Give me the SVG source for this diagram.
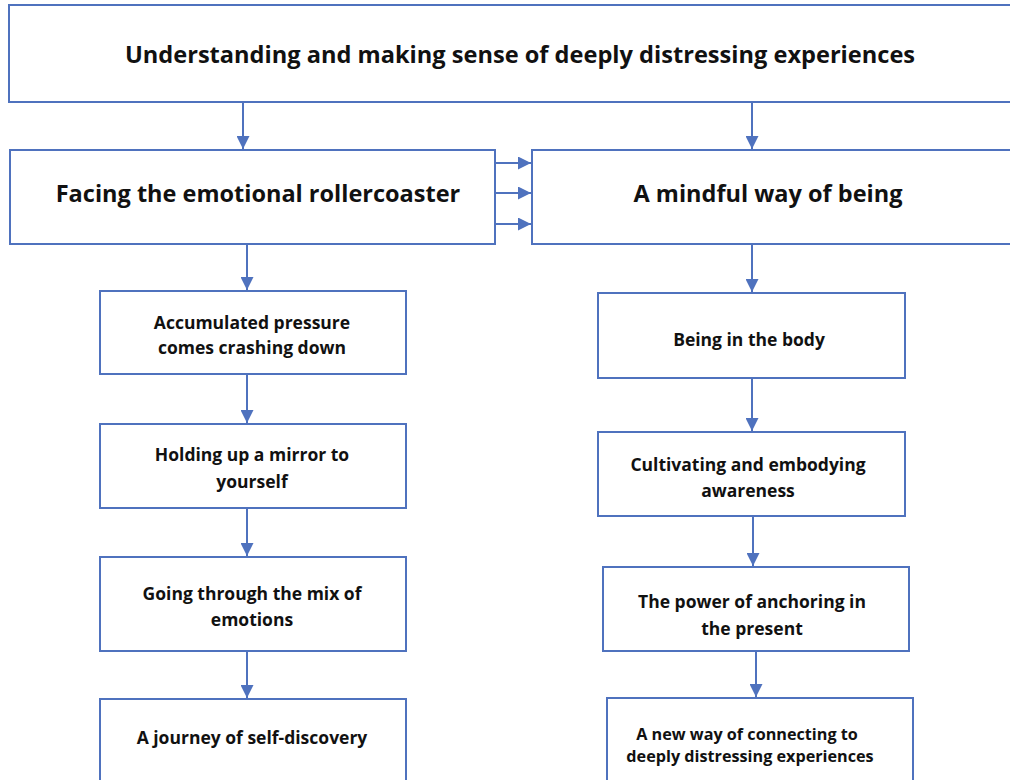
<svg xmlns="http://www.w3.org/2000/svg" width="1010" height="780" viewBox="0 0 1010 780">
  <style>
    .box { fill: #ffffff; stroke: #4f72be; stroke-width: 2; }
    .link { stroke: #4f72be; stroke-width: 2; fill: none; marker-end: url(#tri); }
    text { font-family: "Open Sans", Lato, "Liberation Sans", sans-serif; font-weight: bold; fill: #111111; text-anchor: middle; }
    .t1 { font-size: 23.6px; }
    .t2 { font-size: 23.5px; }
    .t3 { font-size: 17.5px; }
    .t4 { font-size: 16.2px; }
  </style>
  <defs>
    <marker id="tri" viewBox="0 0 10 10" refX="10" refY="5" markerWidth="6.5" markerHeight="6.5" markerUnits="strokeWidth" orient="auto">
      <path d="M0,0 L10,5 L0,10 Z" fill="#4f72be"/>
    </marker>
  </defs>
  <rect width="1010" height="780" fill="#ffffff"/>

  <g id="connectors">
    <line class="link" x1="243" y1="103" x2="243" y2="149"/>
    <line class="link" x1="752" y1="103" x2="752" y2="149"/>
    <line class="link" x1="496" y1="163" x2="531" y2="163"/>
    <line class="link" x1="496" y1="193" x2="531" y2="193"/>
    <line class="link" x1="496" y1="224" x2="531" y2="224"/>
    <line class="link" x1="247" y1="245" x2="247" y2="290"/>
    <line class="link" x1="247" y1="375" x2="247" y2="423"/>
    <line class="link" x1="247" y1="509" x2="247" y2="556"/>
    <line class="link" x1="247" y1="652" x2="247" y2="698"/>
    <line class="link" x1="752" y1="245" x2="752" y2="292"/>
    <line class="link" x1="752" y1="379" x2="752" y2="431"/>
    <line class="link" x1="753" y1="517" x2="753" y2="566"/>
    <line class="link" x1="756" y1="652" x2="756" y2="697"/>
  </g>

  <g id="top">
    <rect class="box" x="9" y="5" width="1010" height="97"/>
    <text class="t1" x="520" y="63">Understanding and making sense of deeply distressing experiences</text>
  </g>
  <g id="facing">
    <rect class="box" x="10" y="150" width="485" height="94"/>
    <text class="t2" x="258" y="202">Facing the emotional rollercoaster</text>
  </g>
  <g id="mindful">
    <rect class="box" x="532" y="150" width="490" height="94"/>
    <text class="t2" x="768" y="202">A mindful way of being</text>
  </g>

  <g id="accumulated">
    <rect class="box" x="100" y="291" width="306" height="83"/>
    <text class="t3" x="252" y="329">Accumulated pressure</text>
    <text class="t3" x="252" y="354">comes crashing down</text>
  </g>
  <g id="mirror">
    <rect class="box" x="100" y="424" width="306" height="84"/>
    <text class="t3" x="252" y="461">Holding up a mirror to</text>
    <text class="t3" x="252" y="488">yourself</text>
  </g>
  <g id="emotions">
    <rect class="box" x="100" y="557" width="306" height="94"/>
    <text class="t3" x="252" y="600">Going through the mix of</text>
    <text class="t3" x="252" y="626">emotions</text>
  </g>
  <g id="journey">
    <rect class="box" x="100" y="699" width="306" height="100"/>
    <text class="t3" x="252" y="744">A journey of self-discovery</text>
  </g>

  <g id="body">
    <rect class="box" x="598" y="293" width="307" height="85"/>
    <text class="t3" x="749" y="346">Being in the body</text>
  </g>
  <g id="awareness">
    <rect class="box" x="598" y="432" width="307" height="84"/>
    <text class="t3" x="748" y="471">Cultivating and embodying</text>
    <text class="t3" x="748" y="497">awareness</text>
  </g>
  <g id="anchoring">
    <rect class="box" x="603" y="567" width="306" height="84"/>
    <text class="t3" x="752" y="608">The power of anchoring in</text>
    <text class="t3" x="752" y="635">the present</text>
  </g>
  <g id="connecting">
    <rect class="box" x="607" y="698" width="306" height="100"/>
    <text class="t4" x="747" y="740">A new way of connecting to</text>
    <text class="t4" x="750" y="762">deeply distressing experiences</text>
  </g>
</svg>
